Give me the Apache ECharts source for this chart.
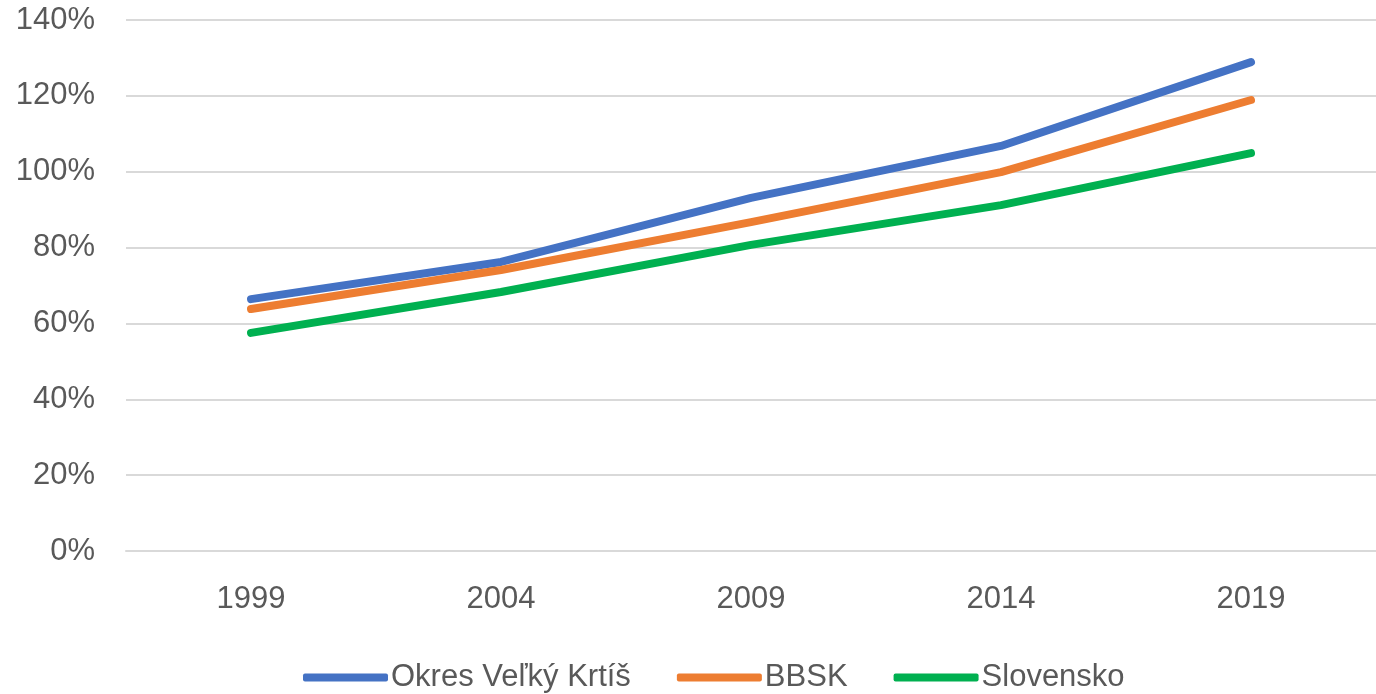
<!DOCTYPE html>
<html>
<head>
<meta charset="utf-8">
<script src="https://cdn.jsdelivr.net/npm/echarts@6/dist/echarts.min.js"></script>
<style>html,body{margin:0;padding:0;background:#fff}#c{width:1376px;height:694px}</style>
</head>
<body>
<div id="c"></div>
<script>
const years = ['1999', '2004', '2009', '2014', '2019'];
const okres = [66.4, 76.2, 93.1, 106.8, 128.9];
const bbsk = [63.8, 74.1, 86.7, 99.9, 118.9];
const slovensko = [57.5, 68.3, 80.7, 91.2, 104.9];
const seriesNames = ['Okres Veľký Krtíš', 'BBSK', 'Slovensko'];
const colors = ['#4472C4', '#ED7D31', '#00B050'];

const chart = echarts.init(document.getElementById('c'));
const font = 'Liberation Sans, Arial, sans-serif';
const mk = (name, data, color) => ({
  name, type: 'line', data, symbol: 'none', smooth: false,
  lineStyle: { width: 8, color, cap: 'round', join: 'round' },
  itemStyle: { color }
});
chart.setOption({
  animation: false,
  grid: { left: 126, right: 0, top: 20, bottom: 143 },
  legend: {
    top: 657, left: 298,
    icon: 'roundRect', itemWidth: 85, itemHeight: 8, itemGap: 46,
    textStyle: { fontFamily: font, fontSize: 31, color: '#595959', padding: [0, 0, 0, -2] },
    data: seriesNames
  },
  xAxis: {
    type: 'category', data: years, boundaryGap: true,
    axisLine: { show: true, lineStyle: { color: '#D9D9D9', width: 2 } },
    axisTick: { show: false },
    axisLabel: { fontFamily: font, fontSize: 31, color: '#595959', margin: 33 }
  },
  yAxis: {
    type: 'value', min: 0, max: 140, interval: 20,
    axisLine: { show: false }, axisTick: { show: false },
    splitLine: { lineStyle: { color: '#D9D9D9', width: 2 } },
    axisLabel: { fontFamily: font, fontSize: 31, color: '#595959', margin: 31, formatter: v => v + '%' }
  },
  series: [mk(seriesNames[0], okres, colors[0]), mk(seriesNames[1], bbsk, colors[1]), mk(seriesNames[2], slovensko, colors[2])]
});
</script>
</body>
</html>
